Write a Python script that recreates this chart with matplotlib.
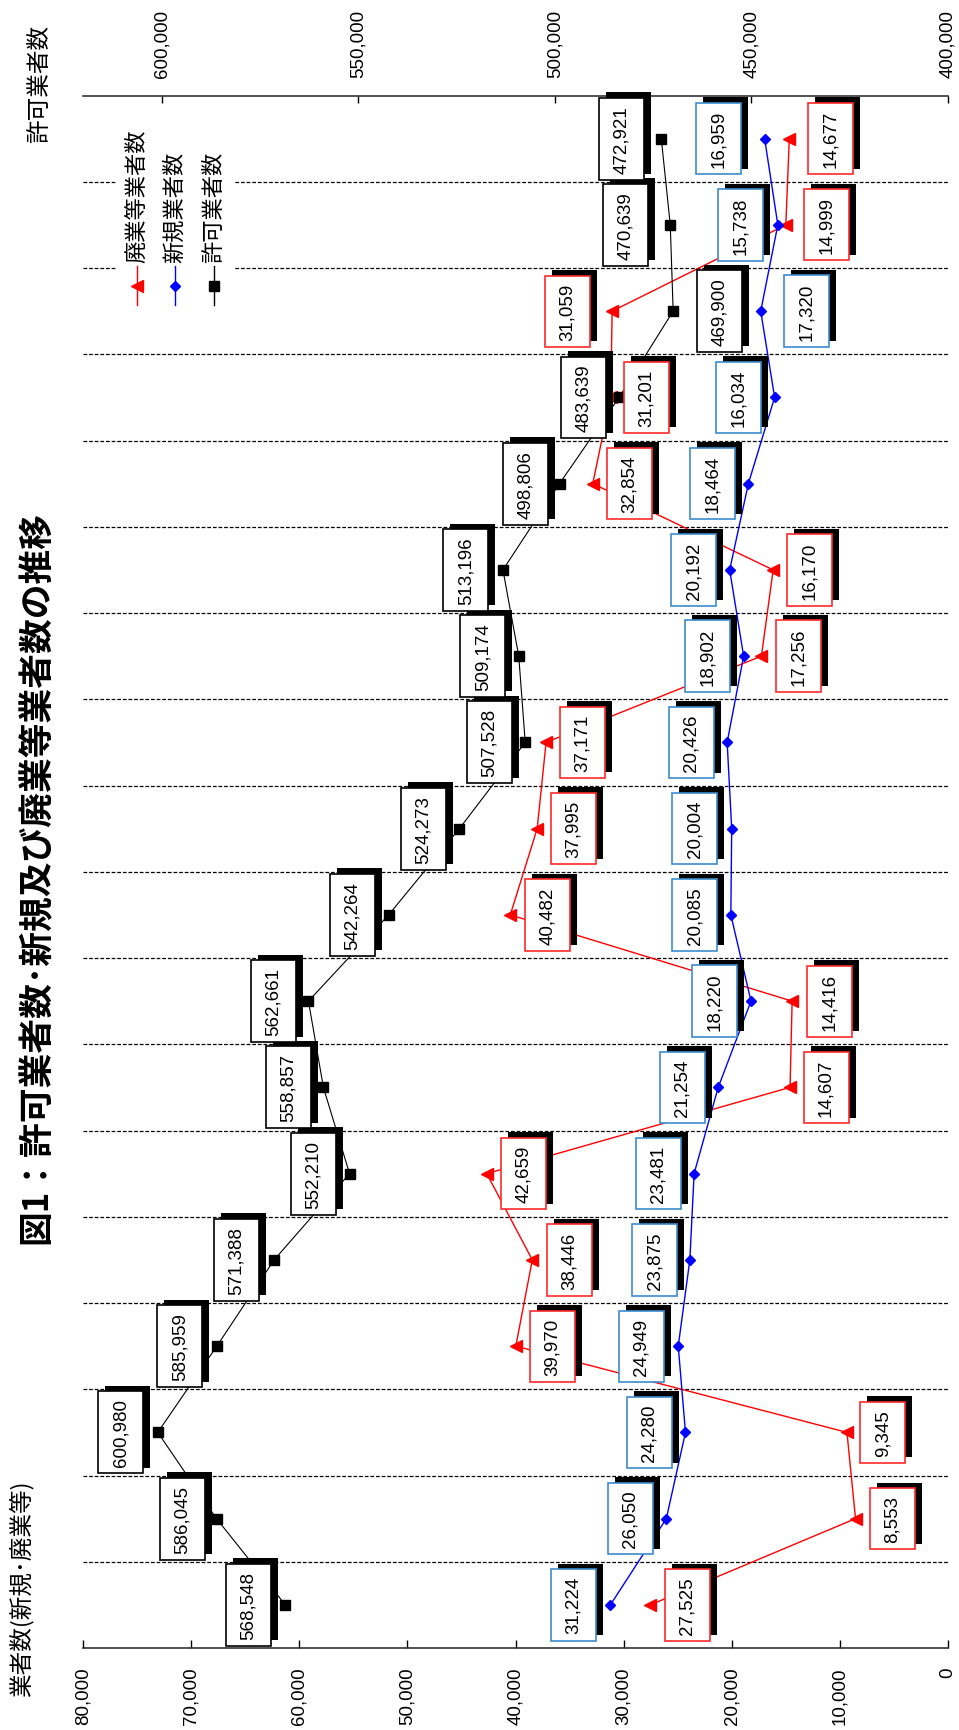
import numpy as np
import matplotlib
matplotlib.use('Agg')
import matplotlib.pyplot as plt
from matplotlib import font_manager as fm
from matplotlib.path import Path
from matplotlib.lines import Line2D
from matplotlib.patches import Rectangle
from matplotlib.ticker import FuncFormatter
import matplotlib.patheffects as pe

# フォント（細長い数字フォントがあれば使う）
names = {f.name for f in fm.fontManager.ttflist}
if 'Liberation Sans Narrow' in names:
    num_font, num_size = 'Liberation Sans Narrow', 16
else:
    num_font, num_size = 'Liberation Sans', 13.5
jp_font = 'Noto Sans CJK JP'
plt.rcParams['font.family'] = [num_font, jp_font, 'DejaVu Sans']

# データ（下から古い年度順）
kyoka = [568548, 586045, 600980, 585959, 571388, 552210, 558857, 562661, 542264,
         524273, 507528, 509174, 513196, 498806, 483639, 469900, 470639, 472921]
shinki = [31224, 26050, 24280, 24949, 23875, 23481, 21254, 18220, 20085,
          20004, 20426, 18902, 20192, 18464, 16034, 17320, 15738, 16959]
haigyo = [27525, 8553, 9345, 39970, 38446, 42659, 14607, 14416, 40482,
          37995, 37171, 17256, 16170, 32854, 31201, 31059, 14999, 14677]

# データラベルの横ずらし（ピクセル）
kyoka_dx = [-37, -34, -37, -37, -38, -36, -35, -35, -36, -36, -36, -36, -37, -34, -36, 46, -45, -40]
shinki_dx = [-37, -36, -36, -37, -35, -36, -36, -36, -36, -37, -36, -36, -36, -36, -36, 46, -37, -46]
haigyo_dx = [37, 37, 36, 37, 37, 37, 36, 37, 37, 36, 36, 37, 36, 37, 36, -45, 41, 41]

idx = np.arange(len(kyoka))

W, H = 959, 1731
fig = plt.figure(figsize=(W / 100, H / 100), dpi=100)
ax = fig.add_axes([83 / W, 82 / H, 865 / W, 1552.5 / H])
ax2 = ax.twiny()

ax.set_xlim(80000, 0)
ax2.set_xlim(620000, 400000)
ax.set_ylim(-0.5, len(kyoka) - 0.5)

# 系列
ax.plot(haigyo, idx, color='red', lw=1, marker='<', ms=8, zorder=3)
ax.plot(shinki, idx, color='blue', lw=1, marker='D', ms=5.5, zorder=3)
ax2.plot(kyoka, idx, color='black', lw=0.8, marker='s', ms=7.5, zorder=2)

# 区切り線
ax.set_yticks(idx[:-1] + 0.5)
ax.grid(axis='y', color='black', ls=(0, (3, 1.5)), lw=0.9)
ax.tick_params(axis='y', length=0, labelleft=False)

for s in ['left', 'right', 'top']:
    ax.spines[s].set_visible(False)
for s in ['left', 'right', 'bottom']:
    ax2.spines[s].set_visible(False)
ax.spines['bottom'].set_color('#333333')
ax.spines['bottom'].set_linewidth(1.2)
ax2.spines['top'].set_color('#333333')
ax2.spines['top'].set_linewidth(1.2)

fmt = FuncFormatter(lambda v, p: f'{int(v):,}')
ax.set_xticks(np.arange(0, 80001, 10000))
ax.xaxis.set_major_formatter(fmt)
ax.tick_params(axis='x', direction='in', length=6, width=1, labelsize=num_size,
               labelrotation=90, pad=13)
ax2.set_xticks(np.arange(400000, 600001, 50000))
ax2.xaxis.set_major_formatter(fmt)
ax2.tick_params(axis='x', direction='in', length=5, width=1, labelsize=num_size,
                labelrotation=90, pad=13)


# ラベル枠（文字方向に余白7px、太さ45px）
def label_box(x0, y0, width, height, mutation_size):
    padl = 7
    cy = y0 + height / 2
    half = 22.5
    verts = [(x0 - padl, cy - half), (x0 + width + padl, cy - half),
             (x0 + width + padl, cy + half), (x0 - padl, cy + half),
             (x0 - padl, cy - half)]
    return Path(verts, closed=True)


def add_labels(values, dxs, coords, edge):
    for i, (v, dx) in enumerate(zip(values, dxs)):
        t = ax2.annotate(f'{v:,}', xy=(v, i), xycoords=coords,
                         xytext=(dx, 0), textcoords='offset pixels',
                         rotation=90, ha='center', va='center', fontsize=num_size,
                         zorder=5,
                         bbox=dict(boxstyle=label_box, fc='white', ec=edge, lw=1.2))
        t.get_bbox_patch().set_path_effects([
            pe.SimplePatchShadow(offset=(5, 4), shadow_rgbFace='black', alpha=1),
            pe.Normal()])


add_labels(haigyo, haigyo_dx, ax.transData, '#ff2a2a')
add_labels(shinki, shinki_dx, ax.transData, '#3d8ccc')
add_labels(kyoka, kyoka_dx, 'data', 'black')


# 凡例（手作り）
def fx(px):
    return px / W


def fy(py):
    return 1 - py / H


fig.add_artist(Rectangle((fx(116), fy(310)), (234 - 116) / W, (310 - 128) / H,
                         transform=fig.transFigure, fc='white', ec='none', zorder=1))
legend_items = [(136.5, 'red', '<', 8, '廃業等業者数'),
                (175, 'blue', 'D', 5.5, '新規業者数'),
                (213.5, 'black', 's', 7.5, '許可業者数')]
for x, col, mk, ms, lab in legend_items:
    fig.add_artist(Line2D([fx(x), fx(x)], [fy(267), fy(306)], transform=fig.transFigure,
                          color=col, lw=1, zorder=2))
    fig.add_artist(Line2D([fx(x)], [fy(287)], transform=fig.transFigure, color=col,
                          marker=mk, ms=ms, lw=0, zorder=3))
    fig.text(fx(x), fy(263), lab, rotation=90, ha='center', va='bottom',
             fontsize=16, family=[jp_font], zorder=3)

# タイトル・軸タイトル
fig.text(fx(36), fy(878), '図1：許可業者数･新規及び廃業等業者数の推移', rotation=90,
         ha='center', va='center', fontsize=25, fontweight='bold', family=[jp_font])
fig.text(fx(21), fy(1697), '業者数(新規･廃業等)', rotation=90, ha='center',
         va='bottom', fontsize=17, family=[jp_font])
fig.text(fx(40), fy(143), '許可業者数', rotation=90, ha='center', va='bottom',
         fontsize=17, family=[jp_font])

fig.savefig('out.png', dpi=100)
